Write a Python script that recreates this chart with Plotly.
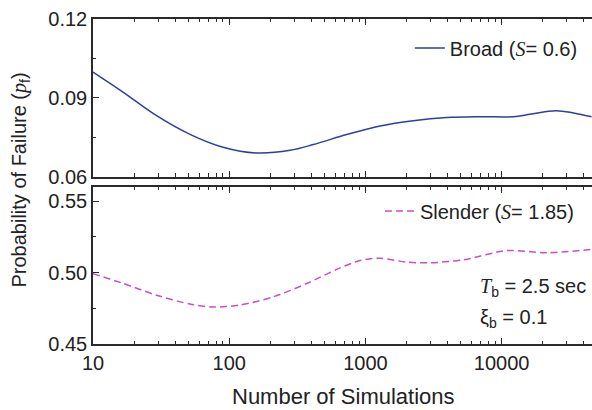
import plotly.graph_objects as go

# ---- data ----
n_broad = [10, 16.7, 29.3, 51.5, 90, 158, 280, 414, 728, 1280, 2240, 3950, 6920, 12200, 16200, 25200, 45700]
pf_broad = [0.0998, 0.0921, 0.0832, 0.0761, 0.0712, 0.0690, 0.0700, 0.0722, 0.0760, 0.0793,
            0.0813, 0.0825, 0.0828, 0.0828, 0.0837, 0.0851, 0.0828]

n_slender = [10, 16.7, 29.3, 51.5, 76, 120, 211, 371, 633, 910, 1280, 2000, 2980, 5250, 11000, 21400, 44700]
pf_slender = [0.4993, 0.4924, 0.4842, 0.4780, 0.4759, 0.4773, 0.4831, 0.4924, 0.5028, 0.5085,
              0.5101, 0.5074, 0.5069, 0.5090, 0.5155, 0.5139, 0.5162]

x_major = [10, 100, 1000, 10000]
x_major_text = ["10", "100", "1000", "10000"]
x_minor = [m * d for d in [10, 100, 1000, 10000] for m in range(2, 10)]

y1_ticks = [0.06, 0.09, 0.12]
y1_text = ["0.06", "0.09", "0.12"]
y1_minor = [0.075, 0.105]
y2_ticks = [0.45, 0.50, 0.55]
y2_text = ["0.45", "0.50", "0.55"]
y2_minor = [0.475, 0.525]

SERIF = "Liberation Serif"
SANS = "Liberation Sans"
AX = "#2a2a2a"
TXT = "#222222"


def it(s):
    return f"<span style='font-family:{SERIF}'><i>{s}</i></span>"


fig = go.Figure()
fig.add_trace(go.Scatter(
    x=n_broad, y=pf_broad, mode="lines", xaxis="x", yaxis="y", legend="legend",
    name=f"Broad ({it('S')}= 0.6)",
    line=dict(color="#2c3f9f", width=1.5, shape="spline", smoothing=0.9)))
fig.add_trace(go.Scatter(
    x=n_slender, y=pf_slender, mode="lines", xaxis="x2", yaxis="y2", legend="legend2",
    name=f"Slender ({it('S')}= 1.85)",
    line=dict(color="#c850c4", width=1.5, dash="7px,4px", shape="spline", smoothing=0.8)))

xcommon = dict(type="log", range=[1, 4.663], domain=[0, 1], showline=True, linecolor=AX, linewidth=1.5,
               mirror="ticks", ticks="inside", ticklen=6, tickwidth=1.2, tickcolor=AX,
               tickvals=x_major, ticktext=x_major_text, showgrid=False, zeroline=False,
               minor=dict(ticks="inside", ticklen=3.5, tickwidth=1, tickcolor=AX, tickvals=x_minor, showgrid=False),
               tickfont=dict(family=SANS, size=20, color=TXT))
ycommon = dict(showline=True, linecolor=AX, linewidth=1.5, mirror=False, ticks="inside", ticklen=6,
               tickwidth=1.2, tickcolor=AX, showgrid=False, zeroline=False,
               tickfont=dict(family=SANS, size=20, color=TXT))

fig.update_layout(
    width=592, height=410,
    margin=dict(l=93, r=0, t=19, b=66),
    paper_bgcolor="white", plot_bgcolor="white",
    font=dict(family=SANS, color=TXT),
    xaxis=dict(anchor="y", showticklabels=False, **xcommon),
    xaxis2=dict(anchor="y2", showticklabels=True, **xcommon),
    yaxis=dict(anchor="x", domain=[0.515, 1], range=[0.06, 0.12], tickvals=y1_ticks, ticktext=y1_text,
               minor=dict(ticks="inside", ticklen=3.5, tickwidth=1, tickcolor=AX, tickvals=y1_minor, showgrid=False),
               **ycommon),
    yaxis2=dict(anchor="x2", domain=[0, 0.483], range=[0.45, 0.56], tickvals=y2_ticks, ticktext=y2_text,
                minor=dict(ticks="inside", ticklen=3.5, tickwidth=1, tickcolor=AX, tickvals=y2_minor, showgrid=False),
                **ycommon),
    legend=dict(x=0.635, y=0.911, xanchor="left", yanchor="middle", bgcolor="rgba(0,0,0,0)",
                font=dict(family=SANS, size=20, color=TXT)),
    legend2=dict(x=0.575, y=0.409, xanchor="left", yanchor="middle", bgcolor="rgba(0,0,0,0)",
                 font=dict(family=SANS, size=20, color=TXT)),
    showlegend=True,
    annotations=[
        dict(text=f"Probability of Failure ({it('p')}<sub>f</sub>)", xref="paper", yref="paper",
             x=-0.145, y=0.505, xanchor="center", yanchor="middle", textangle=-90, showarrow=False,
             font=dict(family=SANS, size=20, color=TXT)),
        dict(text="Number of Simulations", xref="paper", yref="paper", x=0.503, y=-0.163,
             xanchor="center", yanchor="middle", showarrow=False,
             font=dict(family=SANS, size=22, color=TXT)),
        dict(text=f"{it('T')}<sub>b</sub> = 2.5 sec", xref="paper", yref="paper", x=0.772, y=0.175,
             xanchor="left", yanchor="middle", showarrow=False, font=dict(family=SANS, size=20, color=TXT)),
        dict(text="ξ<sub>b</sub> = 0.1", xref="paper", yref="paper", x=0.772, y=0.08,
             xanchor="left", yanchor="middle", showarrow=False, font=dict(family=SANS, size=20, color=TXT)),
    ],
)

fig.write_html("out.html")
